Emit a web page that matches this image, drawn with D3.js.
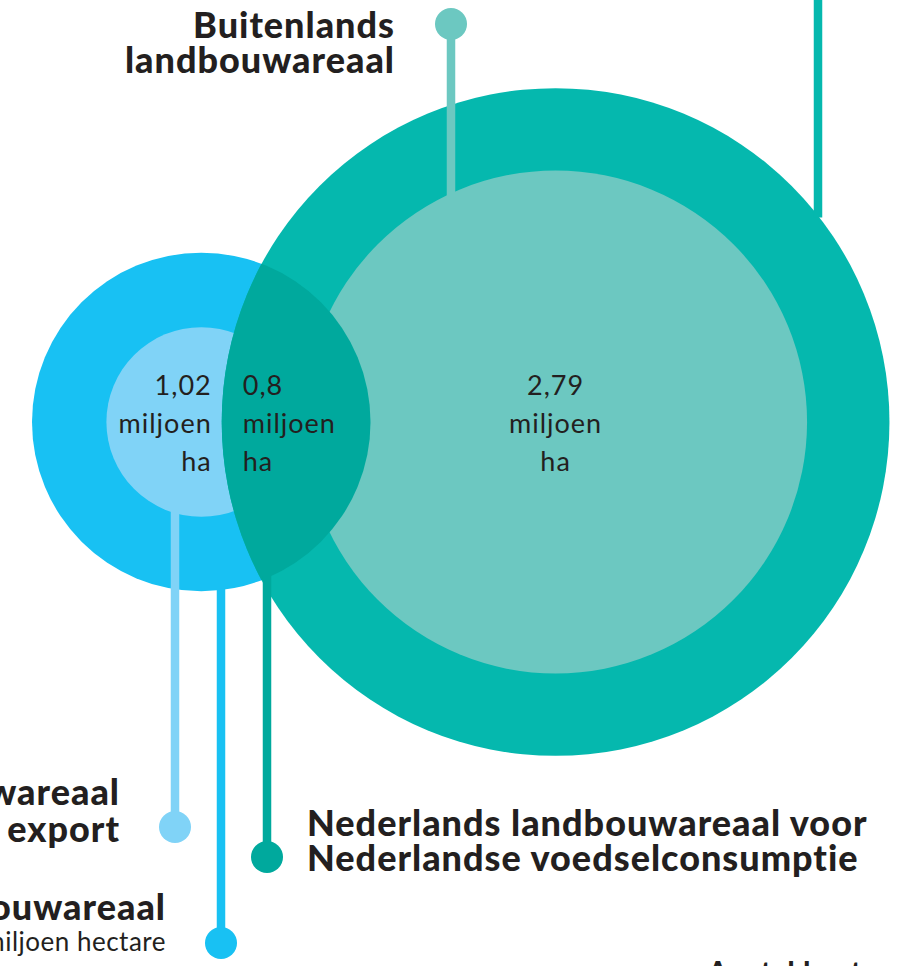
<!DOCTYPE html>
<html>
<head>
<meta charset="utf-8">
<script src="https://cdn.jsdelivr.net/npm/d3@7"></script>
<style>
  body { margin: 0; background: #fff; }
  svg { display: block; }
  text { fill: #231f20; font-family: Lato, "Open Sans", sans-serif; }
  .head { font-weight: 900; font-size: 36px; letter-spacing: 1px; }
  .sub { font-weight: 400; font-size: 26px; letter-spacing: 0.5px; }
  .num { font-weight: 400; font-size: 27px; letter-spacing: 1px; }
</style>
</head>
<body>
<svg></svg>
<script>
// miljoen hectare
const parts = ['export', 'overlap', 'buitenland'];
const values = [1.02, 0.8, 2.79];
const valueLabels = ['1,02', '0,8', '2,79'];
const unitLines = ['miljoen', 'ha'];

const headForeign = ['Buitenlands', 'landbouwareaal'];
const headExport = ['Nederlands landbouwareaal', 'voor export'];
const headNl = ['Nederlands landbouwareaal'];
const subNl = ['1,82 miljoen hectare'];
const headCons = ['Nederlands landbouwareaal voor', 'Nederlandse voedselconsumptie'];
const footLabel = ['Aantal hectare'];

const width = 903;
const height = 966;

const colors = {
  teal: '#05b8ae',
  lightTeal: '#6cc8c1',
  blue: '#18c1f3',
  lightBlue: '#80d3f7',
  overlap: '#00a99d'
};

const nlTotal = values[0] + values[1];
const consTotal = values[1] + values[2];

const rScale = d3.scaleLinear()
                 .domain([0, 1])
                 .range([0, 93]);

const cy = 422;
const x0 = 32;
const nlR = rScale(nlTotal);
const nlCx = x0 + nlR;
const exportR = rScale(values[0]);
const consR = rScale(consTotal);
const consLeft = x0 + 2 * exportR;
const consCx = consLeft + consR;
const foreignR = rScale(values[2]) - 8;

const svg = d3.select('svg')
    .attr('width', width)
    .attr('height', height);

svg.append('defs')
  .append('clipPath')
    .attr('id', 'nl-clip')
  .append('circle')
    .attr('cx', nlCx)
    .attr('cy', cy)
    .attr('r', nlR);

const circles = [
  {cx: nlCx, r: nlR, fill: colors.blue},
  {cx: nlCx, r: exportR, fill: colors.lightBlue},
  {cx: consCx, r: consR, fill: colors.teal},
  {cx: consCx, r: foreignR, fill: colors.lightTeal}
];

svg.selectAll('.bubble')
  .data(circles)
  .enter()
  .append('circle')
    .classed('bubble', true)
    .attr('cx', d => d.cx)
    .attr('cy', cy)
    .attr('r', d => d.r)
    .attr('fill', d => d.fill);

// overlap: NL area used for NL consumption
svg.append('circle')
    .attr('clip-path', 'url(#nl-clip)')
    .attr('cx', consCx)
    .attr('cy', cy)
    .attr('r', consR)
    .attr('fill', colors.overlap);

const edgeY = (cx, r, x, dir) => cy + dir * Math.sqrt(r * r - (x - cx) * (x - cx));

const leaders = [
  {x: 451, end: 24, start: edgeY(consCx, foreignR, 451, -1) + 4, color: colors.lightTeal, dot: true},
  {x: 818, end: 0, start: edgeY(consCx, consR, 818, -1) + 2, color: colors.teal, dot: false},
  {x: 175, end: 827, start: edgeY(nlCx, exportR, 175, 1) - 2, color: colors.lightBlue, dot: true},
  {x: 221, end: 943, start: edgeY(nlCx, nlR, 221, 1) - 2, color: colors.blue, dot: true},
  {x: 267, end: 857, start: edgeY(nlCx, nlR, 267, 1) - 2, color: colors.overlap, dot: true}
];

svg.selectAll('.leader')
  .data(leaders)
  .enter()
  .append('line')
    .classed('leader', true)
    .attr('x1', d => d.x)
    .attr('x2', d => d.x)
    .attr('y1', d => d.start)
    .attr('y2', d => d.end)
    .attr('stroke', d => d.color)
    .attr('stroke-width', 8.5);

svg.selectAll('.dot')
  .data(leaders.filter(d => d.dot))
  .enter()
  .append('circle')
    .classed('dot', true)
    .attr('cx', d => d.x)
    .attr('cy', d => d.end)
    .attr('r', 16)
    .attr('fill', d => d.color);

function textBlock(lines, x, y, anchor, cls, step) {
  const t = svg.append('text')
      .attr('class', cls)
      .attr('text-anchor', anchor);
  t.selectAll('tspan')
    .data(lines)
    .enter()
    .append('tspan')
      .attr('x', x)
      .attr('y', (d, i) => y + i * step)
      .text(d => d);
  return t;
}

// value labels inside the circles
const numPos = [
  {x: consLeft - 10, anchor: 'end'},
  {x: consLeft + 21, anchor: 'start'},
  {x: consCx, anchor: 'middle'}
];
parts.forEach((p, i) => {
  textBlock([valueLabels[i]].concat(unitLines), numPos[i].x, cy - 27, numPos[i].anchor, 'num', 38);
});

textBlock(headForeign, 395, 38, 'end', 'head', 35);
textBlock(headExport, 120, 805, 'end', 'head', 37);
textBlock(headNl, 166, 920, 'end', 'head', 35);
textBlock(subNl, 166, 951, 'end', 'sub', 30);
textBlock(headCons, 307, 836, 'start', 'head', 35);
textBlock(footLabel, 708, 982, 'start', 'head', 30).style('font-size', '28px');
</script>
</body>
</html>
